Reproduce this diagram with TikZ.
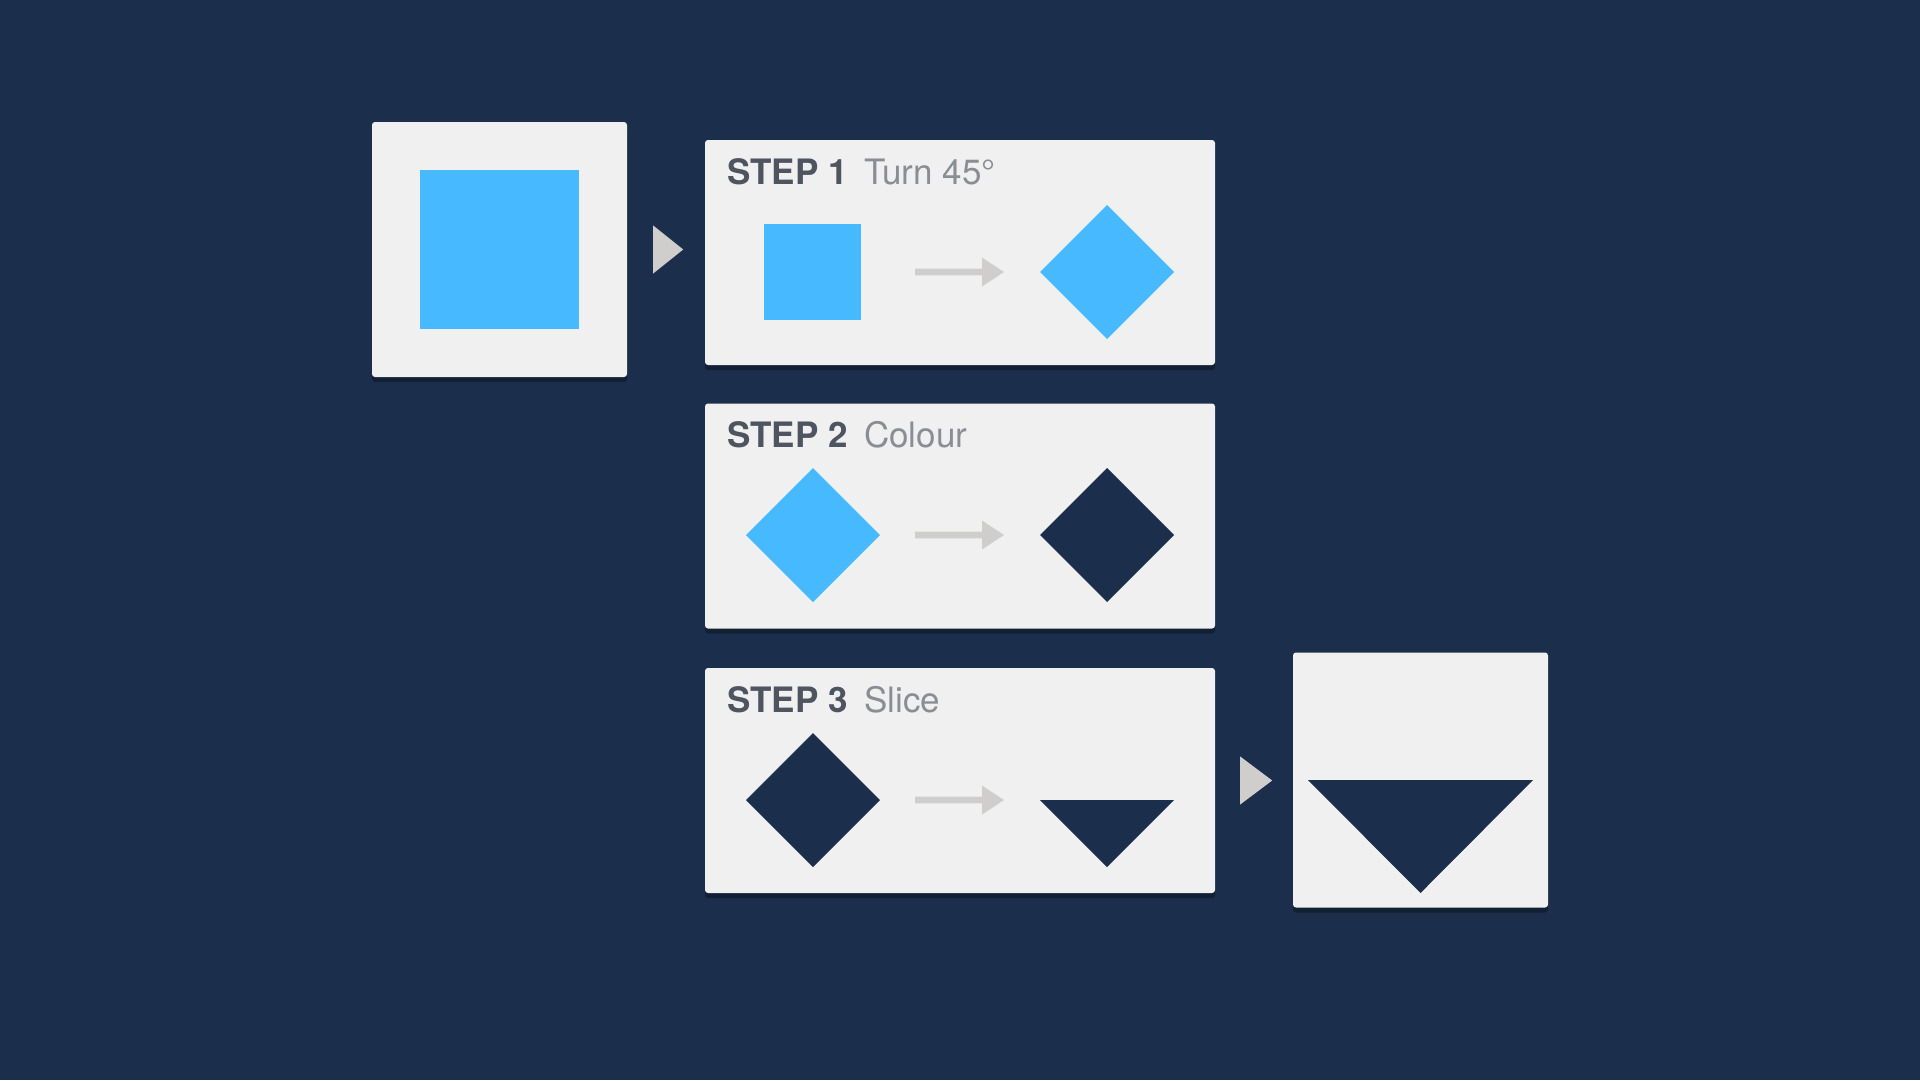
\documentclass[tikz,border=0pt]{standalone}
\usepackage{fontspec}
\setmainfont{TeX Gyre Heros}
\usetikzlibrary{shadows}
\definecolor{bg}{HTML}{1B2E4B}
\definecolor{card}{HTML}{F0F0F0}
\definecolor{sky}{HTML}{47B9FF}
\definecolor{navy}{HTML}{1B2E4B}
\definecolor{arrowgray}{HTML}{D0CECC}
\definecolor{stepdark}{HTML}{4F5560}
\definecolor{steplight}{HTML}{8A8E94}
\tikzset{
  card/.style={fill=card, rounded corners=3pt, inner sep=0pt,
    drop shadow={shadow xshift=0pt, shadow yshift=-5pt, opacity=0.3, fill=black}},
  bigcard/.style={card, minimum width=255pt, minimum height=255pt},
  stepcard/.style={card, minimum width=510pt, minimum height=225pt},
  steplabel/.style={anchor=base west, inner sep=0pt, font=\fontsize{35}{41}\selectfont\bfseries, text=stepdark},
  stepdesc/.style={anchor=base west, inner sep=0pt, font=\fontsize{35}{41}\selectfont, text=steplight},
  bigarrow/.style={fill=arrowgray},
  smallarrow/.style={fill=arrowgray},
}
\begin{document}
\begin{tikzpicture}[x=1pt,y=-1pt]
\fill[bg] (0,0) rectangle (1920,1080);
\useasboundingbox (0,0) rectangle (1920,1080);

% cards
\node[bigcard] (start) at (499.5,249.5) {};
\node[stepcard] (s1) at (960,252.5) {};
\node[stepcard] (s2) at (960,516) {};
\node[stepcard] (s3) at (960,780.5) {};
\node[bigcard] (final) at (1420.5,780) {};

% start square
\fill[sky] (420,170) rectangle (579,329);

% connector triangles
\fill[bigarrow] ([xshift=26pt,yshift=-24pt]start.east) -- ([xshift=56pt]start.east) -- ([xshift=26pt,yshift=24pt]start.east) -- cycle;
\fill[bigarrow] ([xshift=25pt,yshift=-24pt]s3.east) -- ([xshift=57pt]s3.east) -- ([xshift=25pt,yshift=24pt]s3.east) -- cycle;

% labels
\node[steplabel] (t1) at (727,184) {STEP 1};
\node[stepdesc] (d1) at (864,184) {Turn 45°};
\node[steplabel] (t2) at (727,447) {STEP 2};
\node[stepdesc] (d2) at (864,447) {Colour};
\node[steplabel] (t3) at (727,712) {STEP 3};
\node[stepdesc] (d3) at (864,712) {Slice};

% small arrows
\foreach \yy in {272,535,800}{
  \fill[smallarrow] (915,\yy-3.3) -- (982,\yy-3.3) -- (982,\yy-14.5) -- (1004,\yy) -- (982,\yy+14.5) -- (982,\yy+3.3) -- (915,\yy+3.3) -- cycle;
}

% step 1 shapes
\fill[sky] (764,224) rectangle (861,320);
\fill[sky] (1107,205) -- (1174,272) -- (1107,339) -- (1040,272) -- cycle;

% step 2 shapes
\fill[sky] (813,468) -- (880,535) -- (813,602) -- (746,535) -- cycle;
\fill[navy] (1107,468) -- (1174,535) -- (1107,602) -- (1040,535) -- cycle;

% step 3 shapes
\fill[navy] (813,733) -- (880,800) -- (813,867) -- (746,800) -- cycle;
\fill[navy] (1040,800) -- (1174,800) -- (1107,867) -- cycle;

% final triangle
\fill[navy] (1308,780) -- (1533,780) -- (1420.5,893) -- cycle;
\end{tikzpicture}
\end{document}
